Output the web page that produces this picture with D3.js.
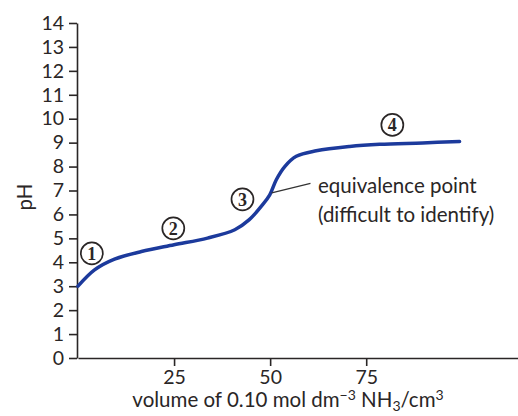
<!DOCTYPE html>
<html>
<head>
<meta charset="utf-8">
<script src="https://cdn.jsdelivr.net/npm/d3@7"></script>
<style>
  body { margin: 0; background: #fff; }
  svg { display: block; font-family: Lato, sans-serif; }
  .axis path, .axis line { stroke: #2a2626; stroke-width: 1.6; }
  .axis text { fill: #2a2626; font-size: 19.5px; font-family: Lato, sans-serif; }
</style>
</head>
<body>
<svg></svg>
<script>
// titration curve: volume of NH3 (cm3) vs pH
const volume = [0, 4.3, 9.5, 16.5, 25, 33.7, 40.8, 44.5, 48, 49.9, 51.6, 53.8, 56.8, 62, 70.7, 78.5, 89.7, 99.3];
const pH = [3.0, 3.68, 4.13, 4.45, 4.73, 5.01, 5.36, 5.77, 6.4, 6.82, 7.45, 8.0, 8.43, 8.66, 8.84, 8.93, 8.99, 9.05];

const xTicks = [25, 50, 75];
const yTicks = d3.range(0, 15);

// circled stage labels
const stageLabels = ["1", "2", "3", "4"];
const stageVolume = [3.6, 24.8, 42.8, 81.8];
const stagePH = [4.37, 5.42, 6.63, 9.74];

const noteLines = ["equivalence point", "(difficult to identify)"];

const svg = d3.select("svg").attr("width", 518).attr("height", 416);

const x = d3.scaleLinear().domain([0, 114.5]).range([78, 518]);
const y = d3.scaleLinear().domain([0, 14]).range([358, 23]);

const xAxis = d3.axisBottom(x).tickValues(xTicks).tickSize(8).tickSizeOuter(0).tickPadding(4);
const yAxis = d3.axisLeft(y).tickValues(yTicks).tickSize(8).tickSizeOuter(0).tickPadding(5);

svg.append("g").attr("class", "axis")
  .attr("transform", "translate(0,358)")
  .call(xAxis);

svg.append("g").attr("class", "axis")
  .attr("transform", "translate(77,0)")
  .call(yAxis);

svg.append("text")
  .attr("transform", "translate(32,197) rotate(-90)")
  .attr("text-anchor", "middle")
  .attr("font-size", 20.5)
  .attr("fill", "#2a2626")
  .text("pH");

const xl = svg.append("text")
  .attr("x", 288).attr("y", 407)
  .attr("text-anchor", "middle")
  .attr("font-size", 20.5)
  .attr("fill", "#2a2626");
xl.append("tspan").text("volume of 0.10 mol dm");
xl.append("tspan").attr("dy", -7).attr("font-size", 14).text("\u22123");
xl.append("tspan").attr("dy", 7).text(" NH");
xl.append("tspan").attr("dy", 4).attr("font-size", 14).text("3");
xl.append("tspan").attr("dy", -4).text("/cm");
xl.append("tspan").attr("dy", -7).attr("font-size", 14).text("3");

const data = volume.map((v, i) => ({ v: v, p: pH[i] }));

const line = d3.line()
  .x(d => x(d.v))
  .y(d => y(d.p))
  .curve(d3.curveCatmullRom.alpha(0.5));

svg.append("path")
  .datum(data)
  .attr("d", line)
  .attr("fill", "none")
  .attr("stroke", "#1c3a9c")
  .attr("stroke-width", 3.5)
  .attr("stroke-linecap", "round");

// leader line for the equivalence point
svg.append("line")
  .attr("x1", x(50.4)).attr("y1", y(6.9))
  .attr("x2", x(60.5)).attr("y2", y(7.3))
  .attr("stroke", "#333")
  .attr("stroke-width", 1.3);

svg.selectAll(".note")
  .data(noteLines)
  .enter()
  .append("text")
  .attr("class", "note")
  .attr("x", 318)
  .attr("y", (d, i) => 193 + i * 29)
  .attr("font-size", 20.5)
  .attr("fill", "#2a2626")
  .text(d => d);

const stages = svg.selectAll(".stage")
  .data(stageLabels)
  .enter()
  .append("g")
  .attr("class", "stage")
  .attr("transform", (d, i) => `translate(${x(stageVolume[i])},${y(stagePH[i])})`);

stages.append("circle")
  .attr("r", 11)
  .attr("fill", "#fff")
  .attr("stroke", "#2a2626")
  .attr("stroke-width", 1.7);

stages.append("text")
  .attr("text-anchor", "middle")
  .attr("dy", "0.36em")
  .attr("font-size", 18)
  .attr("font-weight", "bold")
  .attr("font-family", "'Liberation Serif', serif")
  .attr("fill", "#2a2626")
  .text(d => d);
</script>
</body>
</html>
